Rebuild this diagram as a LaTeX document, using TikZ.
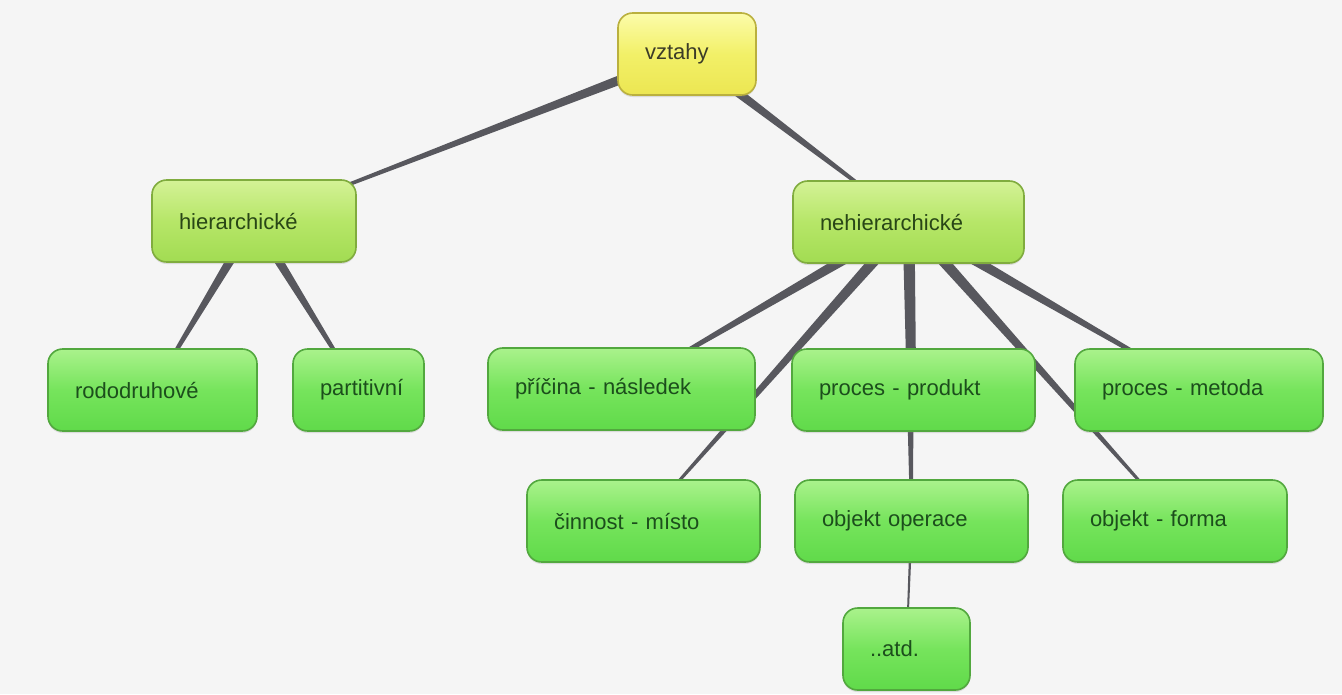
\documentclass[tikz,border=0pt]{standalone}
\usepackage{fontspec}
\setmainfont{Liberation Sans}
\usetikzlibrary{calc,shadows}

\definecolor{paper}{RGB}{245,245,245}
\definecolor{edgegrey}{RGB}{88,88,94}
\definecolor{leaftop}{RGB}{170,242,140}
\definecolor{leafmid}{RGB}{118,228,92}
\definecolor{leafbot}{RGB}{96,218,74}
\definecolor{leafline}{RGB}{82,168,62}
\definecolor{leaftext}{RGB}{28,78,28}
\definecolor{midtop}{RGB}{212,242,150}
\definecolor{midmid}{RGB}{182,230,104}
\definecolor{midbot}{RGB}{162,220,82}
\definecolor{midline}{RGB}{128,172,62}
\definecolor{midtext}{RGB}{40,70,22}
\definecolor{roottop}{RGB}{252,252,170}
\definecolor{rootmid}{RGB}{242,240,104}
\definecolor{rootbot}{RGB}{236,230,82}
\definecolor{rootline}{RGB}{186,176,62}
\definecolor{roottext}{RGB}{60,60,40}

\pgfdeclarelayer{edges}
\pgfsetlayers{edges,main}

\tikzset{every picture/.style={line width=0.75pt}}
\tikzset{
  mapbox/.style={rounded corners=11pt, line width=1.2pt, inner xsep=20.25pt, inner ysep=0pt,
    minimum height=61.5pt, align=left, font=\fontsize{16.5}{19}\selectfont,
    drop shadow={shadow xshift=0pt, shadow yshift=-1.5pt, opacity=.22}},
  rootbox/.style={mapbox, draw=rootline, top color=roottop, bottom color=rootbot, middle color=rootmid, text=roottext},
  midbox/.style={mapbox, draw=midline, top color=midtop, bottom color=midbot, middle color=midmid, text=midtext},
  leafbox/.style={mapbox, draw=leafline, top color=leaftop, bottom color=leafbot, middle color=leafmid, text=leaftext},
  edge/.style={fill=edgegrey}
}

% tapered connector: from #1 to #2, half widths #3 and #4
\newcommand\tapered[4]{%
  \fill[edge] ($(#1.center)!#3!90:(#2.center)$) -- ($(#2.center)!#4!-90:(#1.center)$)
    -- ($(#2.center)!#4!90:(#1.center)$) -- ($(#1.center)!#3!-90:(#2.center)$) -- cycle;}

\begin{document}
\begin{tikzpicture}[x=0.75pt,y=0.75pt,yscale=-1,xscale=1]

\useasboundingbox (0,0) rectangle (1342,694);

% Nodes
\node [rootbox, text width=63pt] (vztahy) at (687,54) {vztahy};
\node [midbox, text width=112.5pt] (hier) at (254,221) {hierarchické};
\node [midbox, text width=132.75pt] (nehier) at (908.5,222) {nehierarchické};

\node [leafbox, text width=116.25pt] (rodo) at (152.5,390) {rododruhové};
\node [leafbox, text width=57.75pt] (parti) at (358.5,390) {partitivní};
\node [leafbox, text width=159.75pt] (pricina) at (621.5,389) {příčina - následek};
\node [leafbox, text width=141.75pt] (produkt) at (913.5,390) {proces - produkt};
\node [leafbox, text width=145.5pt] (metoda) at (1199,390) {proces - metoda};

\node [leafbox, text width=134.25pt] (cinnost) at (643.5,521) {činnost - místo};
\node [leafbox, text width=134.25pt] (operace) at (911.5,521) {objekt operace};
\node [leafbox, text width=127.5pt] (forma) at (1175,521) {objekt - forma};

\node [leafbox, text width=54.75pt] (atd) at (906.5,649) {..atd.};

% Connectors
\begin{pgfonlayer}{edges}
\fill [paper] (0,0) rectangle (1342,694);
\tapered{vztahy}{hier}{4pt}{0.6pt}
\tapered{vztahy}{nehier}{4pt}{0.6pt}
\tapered{hier}{rodo}{4pt}{0.8pt}
\tapered{hier}{parti}{4pt}{0.8pt}
\tapered{nehier}{pricina}{4.5pt}{0.8pt}
\tapered{nehier}{cinnost}{4.5pt}{0.6pt}
\tapered{nehier}{produkt}{4.5pt}{2pt}
\tapered{nehier}{operace}{4.5pt}{1pt}
\tapered{nehier}{metoda}{4.5pt}{0.8pt}
\tapered{nehier}{forma}{4.5pt}{0.6pt}
\tapered{operace}{atd}{1pt}{0.6pt}
\end{pgfonlayer}

\end{tikzpicture}
\end{document}
